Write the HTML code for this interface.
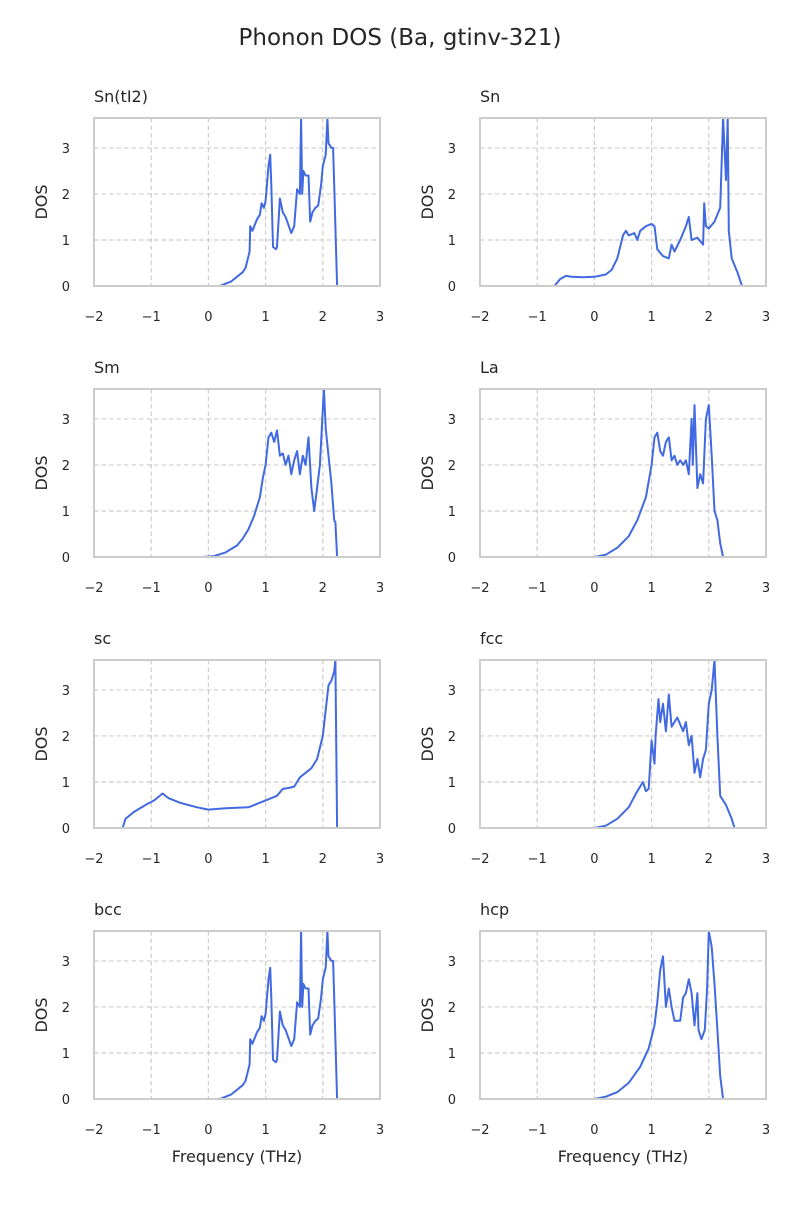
<!DOCTYPE html>
<html><head><meta charset="utf-8">
<style>
html,body{margin:0;padding:0;background:#fff;}
svg text{font-family:"DejaVu Sans","Liberation Sans",sans-serif;fill:#262626;}
</style></head>
<body>
<svg id="chart" width="800" height="1200" viewBox="0 0 800 1200" xmlns="http://www.w3.org/2000/svg">
<text x="400" y="45" font-size="23" text-anchor="middle">Phonon DOS (Ba, gtinv-321)</text>
</svg>
<script>
const titles = ["Sn(tI2)","Sn","Sm","La","sc","fcc","bcc","hcp"];
const xTicks = [-2,-1,0,1,2,3];
const xTickLabels = ["\u22122","\u22121","0","1","2","3"];
const yTicks = [0,1,2,3];
const freqSnTI2 = [0,0.2,0.3,0.4,0.5,0.6,0.65,0.72,0.73,0.77,0.85,0.9,0.93,0.97,1.0,1.05,1.08,1.1,1.13,1.18,1.2,1.25,1.3,1.35,1.45,1.5,1.55,1.6,1.62,1.64,1.66,1.7,1.75,1.78,1.82,1.87,1.92,1.97,2.0,2.05,2.08,2.1,2.15,2.18,2.2,2.25,2.45];
const dosSnTI2 = [0,0,0.05,0.1,0.2,0.3,0.4,0.75,1.3,1.2,1.45,1.55,1.8,1.7,1.85,2.6,2.85,2.2,0.85,0.8,0.85,1.9,1.6,1.5,1.15,1.3,2.1,2.0,3.7,2.0,2.5,2.4,2.4,1.4,1.6,1.7,1.75,2.2,2.6,2.85,3.7,3.1,3.0,3.0,2.2,0,0];
const freqSn = [-1.0,-0.7,-0.6,-0.5,-0.4,-0.2,0,0.2,0.3,0.4,0.5,0.55,0.6,0.7,0.75,0.8,0.9,1.0,1.05,1.1,1.2,1.3,1.35,1.4,1.5,1.6,1.65,1.7,1.8,1.9,1.92,1.95,2.0,2.1,2.2,2.25,2.3,2.33,2.35,2.4,2.5,2.58,2.9];
const dosSn = [0,0,0.15,0.22,0.2,0.19,0.2,0.25,0.35,0.6,1.1,1.2,1.1,1.15,1.0,1.2,1.3,1.35,1.3,0.8,0.65,0.6,0.9,0.75,1.0,1.3,1.5,1.0,1.05,0.9,1.8,1.3,1.25,1.4,1.7,3.7,2.3,3.7,1.2,0.6,0.3,0,0];
const freqSm = [-0.1,0.1,0.3,0.5,0.6,0.7,0.8,0.9,0.95,1.0,1.05,1.1,1.15,1.2,1.25,1.3,1.35,1.4,1.45,1.5,1.55,1.6,1.65,1.7,1.75,1.8,1.85,1.9,1.95,2.0,2.02,2.05,2.1,2.15,2.2,2.22,2.25,2.5];
const dosSm = [0,0.02,0.1,0.25,0.4,0.6,0.9,1.3,1.7,2.0,2.6,2.7,2.5,2.75,2.2,2.25,2.0,2.2,1.8,2.1,2.3,1.8,2.2,2.0,2.6,1.5,1.0,1.5,2.0,3.2,3.7,2.8,2.2,1.6,0.8,0.75,0,0];
const freqLa = [0,0.2,0.4,0.6,0.75,0.9,1.0,1.05,1.1,1.15,1.2,1.25,1.3,1.35,1.4,1.45,1.5,1.55,1.6,1.65,1.7,1.72,1.75,1.8,1.85,1.9,1.95,2.0,2.05,2.1,2.15,2.2,2.25,2.5];
const dosLa = [0,0.05,0.2,0.45,0.8,1.3,2.0,2.6,2.7,2.3,2.2,2.5,2.6,2.1,2.2,2.0,2.1,2.0,2.1,1.8,3.0,2.0,3.3,1.5,1.8,1.6,3.0,3.3,2.2,1.0,0.8,0.3,0,0];
const freqSc = [-1.8,-1.5,-1.45,-1.3,-1.1,-0.95,-0.8,-0.7,-0.5,-0.2,0,0.3,0.7,0.9,1.0,1.2,1.3,1.4,1.5,1.6,1.7,1.8,1.9,2.0,2.1,2.15,2.2,2.22,2.25,2.6];
const dosSc = [0,0,0.2,0.35,0.5,0.6,0.75,0.65,0.55,0.45,0.4,0.43,0.45,0.55,0.6,0.7,0.85,0.87,0.9,1.1,1.2,1.3,1.5,2.0,3.1,3.2,3.4,3.7,0,0];
const freqFcc = [0,0.2,0.4,0.6,0.75,0.85,0.9,0.95,1.0,1.05,1.07,1.12,1.15,1.2,1.25,1.3,1.35,1.45,1.55,1.6,1.65,1.7,1.75,1.8,1.85,1.9,1.95,2.0,2.05,2.1,2.15,2.2,2.3,2.4,2.45,2.6];
const dosFcc = [0,0.05,0.2,0.45,0.8,1.0,0.8,0.85,1.9,1.4,2.0,2.8,2.3,2.7,2.1,2.9,2.2,2.4,2.1,2.3,1.8,2.0,1.2,1.5,1.1,1.5,1.7,2.7,3.0,3.7,2.0,0.7,0.5,0.2,0,0];
const freqHcp = [0,0.2,0.4,0.6,0.8,0.95,1.05,1.1,1.15,1.2,1.25,1.3,1.35,1.4,1.5,1.55,1.6,1.65,1.7,1.75,1.8,1.82,1.87,1.93,1.97,2.0,2.05,2.1,2.15,2.2,2.25,2.45];
const dosHcp = [0,0.05,0.15,0.35,0.7,1.1,1.6,2.1,2.8,3.1,2.0,2.4,2.0,1.7,1.7,2.2,2.3,2.6,2.3,1.6,2.3,1.5,1.3,1.5,2.4,3.7,3.3,2.5,1.5,0.5,0,0];
const freqs = [freqSnTI2,freqSn,freqSm,freqLa,freqSc,freqFcc,freqSnTI2,freqHcp];
const doses = [dosSnTI2,dosSn,dosSm,dosLa,dosSc,dosFcc,dosSnTI2,dosHcp];

const NS = "http://www.w3.org/2000/svg";
const svg = document.getElementById("chart");
const W = 286, H = 168, XMIN = -2, XMAX = 3, YMAX = 3.65;
function mk(tag, attrs, parent){const e=document.createElementNS(NS,tag);for(const k in attrs)e.setAttribute(k,attrs[k]);(parent||svg).appendChild(e);return e;}
for (let i=0;i<8;i++){
  const col=i%2,row=Math.floor(i/2);
  const L = col?480:94, T = 118 + row*271;
  const xs = v => L + (v-XMIN)/(XMAX-XMIN)*W;
  const ys = v => T + H - Math.min(v,YMAX)/YMAX*H;
  const g = mk("g",{});
  
  
  const clipId="clip"+i;
  const cp=mk("clipPath",{id:clipId},g);mk("rect",{x:L,y:T,width:W,height:H},cp);
  xTicks.forEach((t,k)=>{
    if(t>XMIN&&t<XMAX) mk("line",{x1:xs(t),x2:xs(t),y1:T,y2:T+H,stroke:"#cccccc","stroke-width":1.2,"stroke-dasharray":"4.5,3"},g);
    const tx=mk("text",{x:xs(t),y:T+H+35,"font-size":13,"text-anchor":"middle"},g);tx.textContent=xTickLabels[k];
    
    
  });
  yTicks.forEach(t=>{
    if(t>0) mk("line",{x1:L,x2:L+W,y1:ys(t),y2:ys(t),stroke:"#cccccc","stroke-width":1.2,"stroke-dasharray":"4.5,3"},g);
    const ty=mk("text",{x:L-24,y:ys(t)+5,"font-size":13,"text-anchor":"end"},g);ty.textContent=t;
    
    
  });
  const f=freqs[i],d=doses[i];
  mk("line",{x1:xs(f[0]),x2:xs(f[f.length-1]),y1:ys(0),y2:ys(0),stroke:"#9fb4ef","stroke-width":1.5,"clip-path":"url(#"+clipId+")"},g);
  const pts=f.map((x,k)=>xs(x).toFixed(1)+","+ys(d[k]).toFixed(1)).join(" ");
  const pl=mk("polyline",{points:pts,fill:"none",stroke:"#4169e1","stroke-width":2,"stroke-linejoin":"round","clip-path":"url(#"+clipId+")"},g);
  
  
  const fr=mk("rect",{x:L,y:T,width:W,height:H,fill:"none",stroke:"#cccccc","stroke-width":2},g);
  
  
  const st=mk("text",{x:L,y:T-16,"font-size":16},g);st.textContent=titles[i];
  
  
  const yl=mk("text",{x:0,y:0,"font-size":16,"text-anchor":"middle",transform:"translate("+(L-47)+","+(T+H/2)+") rotate(-90)"},g);yl.textContent="DOS";
  
  
  if(row===3){
    const xl=mk("text",{x:L+W/2,y:T+H+63,"font-size":16,"text-anchor":"middle"},g);xl.textContent="Frequency (THz)";
    
    
  }
}
</script>
</body></html>
